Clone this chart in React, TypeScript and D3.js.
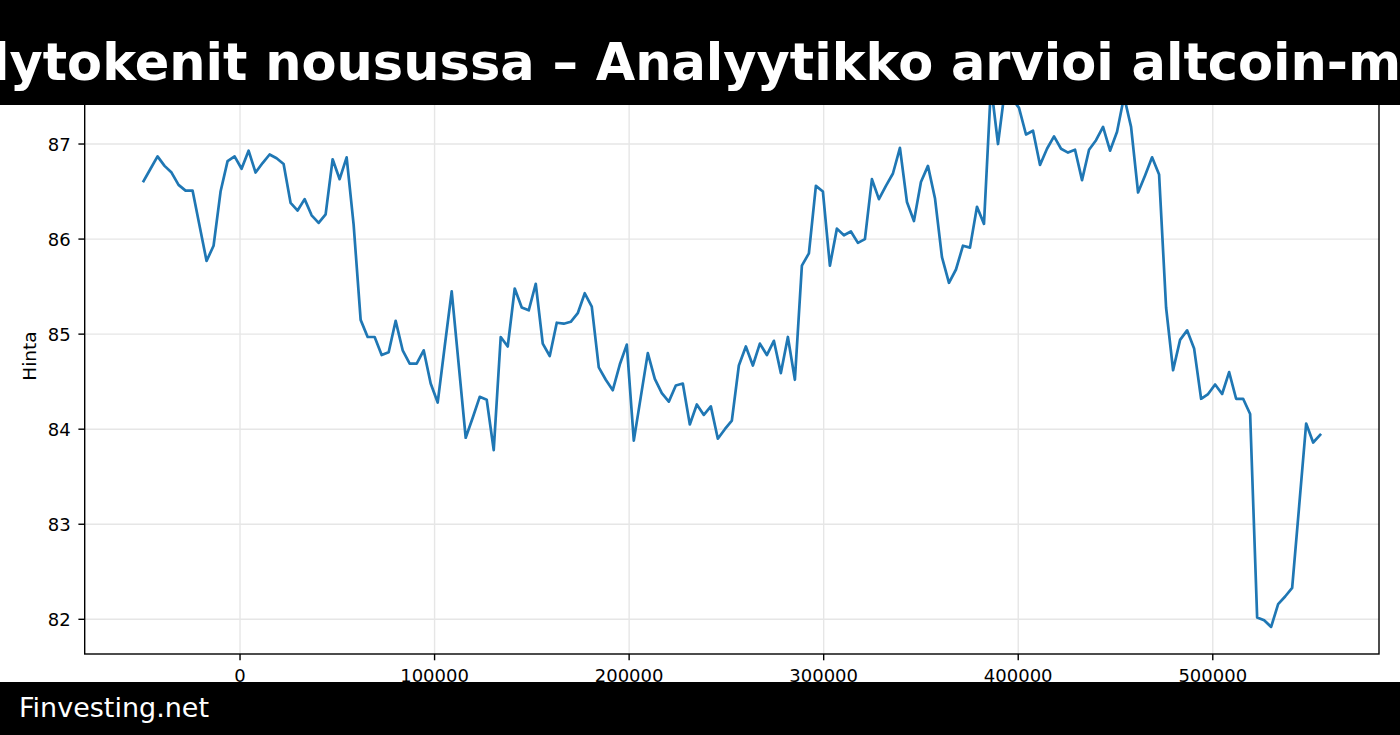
import React, { useEffect, useRef } from 'react';
import * as d3 from 'd3';

// hourly closing prices (x axis is seconds, one point per hour)
const prices: number[] = [
  86.61, 86.74, 86.87, 86.77, 86.70, 86.57, 86.51, 86.51, 86.14, 85.77,
  85.93, 86.50, 86.82, 86.87, 86.74, 86.93, 86.70, 86.80, 86.89, 86.85,
  86.79, 86.38, 86.30, 86.42, 86.25, 86.17, 86.26, 86.84, 86.63, 86.86,
  86.15, 85.15, 84.97, 84.97, 84.78, 84.81, 85.14, 84.83, 84.69, 84.69,
  84.83, 84.48, 84.28, 84.87, 85.45, 84.68, 83.91, 84.12, 84.34, 84.31,
  83.78, 84.97, 84.87, 85.48, 85.28, 85.25, 85.53, 84.90, 84.77, 85.12,
  85.11, 85.13, 85.22, 85.43, 85.29, 84.65, 84.52, 84.41, 84.68, 84.89,
  83.88, 84.34, 84.80, 84.53, 84.38, 84.29, 84.46, 84.48, 84.05, 84.26,
  84.15, 84.24, 83.90, 84.00, 84.09, 84.67, 84.87, 84.67, 84.90, 84.78,
  84.93, 84.59, 84.97, 84.52, 85.72, 85.85, 86.56, 86.50, 85.72, 86.11,
  86.04, 86.08, 85.96, 86.00, 86.63, 86.42, 86.56, 86.69, 86.96, 86.39,
  86.19, 86.60, 86.77, 86.43, 85.81, 85.54, 85.68, 85.93, 85.91, 86.34,
  86.16, 87.62, 87.00, 87.58, 87.48, 87.38, 87.10, 87.14, 86.78, 86.95,
  87.08, 86.95, 86.91, 86.94, 86.62, 86.94, 87.04, 87.18, 86.93, 87.13,
  87.50, 87.18, 86.49, 86.67, 86.86, 86.68, 85.28, 84.62, 84.94, 85.04,
  84.85, 84.32, 84.37, 84.47, 84.37, 84.60, 84.32, 84.32, 84.16, 82.02,
  81.99, 81.92, 82.16, 82.24, 82.33, 83.19, 84.06, 83.86, 83.94,
];
const startTime = -49600;
const stepTime = 3600;

const xTicks = [0, 100000, 200000, 300000, 400000, 500000];
const yTicks = [82, 83, 84, 85, 86, 87];

const titleText = 'lytokenit nousussa – Analyytikko arvioi altcoin-ma';
const footerText = 'Finvesting.net';
const yLabel = 'Hinta';

const W = 1400;
const H = 735;

export default function App() {
  const ref = useRef<SVGSVGElement>(null);

  useEffect(() => {
    const svg = d3.select(ref.current);
    svg.selectAll('*').remove();

    const data = prices.map((p, i) => ({ x: startTime + i * stepTime, y: p }));

    const left = 84.7, right = 1379, top = 58, bottom = 654;

    // matplotlib style 5% margins
    const xExt = d3.extent(data, d => d.x) as [number, number];
    const yExt = d3.extent(data, d => d.y) as [number, number];
    const xPad = (xExt[1] - xExt[0]) * 0.05;
    const yPad = (yExt[1] - yExt[0]) * 0.05;

    const xScale = d3.scaleLinear()
      .domain([xExt[0] - xPad, xExt[1] + xPad])
      .range([left, right]);
    const yScale = d3.scaleLinear()
      .domain([yExt[0] - yPad, yExt[1] + yPad])
      .range([bottom, top]);

    svg.append('rect').attr('width', W).attr('height', H).attr('fill', '#fff');

    const font = 'DejaVu Sans, sans-serif';

    //grid
    const grid = svg.append('g').attr('stroke', '#e6e6e6').attr('stroke-width', 1.4);
    xTicks.forEach(t => {
      grid.append('line')
        .attr('x1', xScale(t)).attr('x2', xScale(t))
        .attr('y1', top).attr('y2', bottom);
    });
    yTicks.forEach(t => {
      grid.append('line')
        .attr('x1', left).attr('x2', right)
        .attr('y1', yScale(t)).attr('y2', yScale(t));
    });

    //price line
    const line = d3.line<{ x: number; y: number }>()
      .x(d => xScale(d.x))
      .y(d => yScale(d.y));
    svg.append('path')
      .datum(data)
      .attr('d', line)
      .attr('fill', 'none')
      .attr('stroke', '#1f77b4')
      .attr('stroke-width', 2.7)
      .attr('stroke-linejoin', 'round')
      .attr('stroke-linecap', 'square');

    //spines
    svg.append('rect')
      .attr('x', left).attr('y', top)
      .attr('width', right - left).attr('height', bottom - top)
      .attr('fill', 'none').attr('stroke', '#000').attr('stroke-width', 1.4);

    //x ticks
    const xt = svg.append('g');
    xTicks.forEach(t => {
      xt.append('line')
        .attr('x1', xScale(t)).attr('x2', xScale(t))
        .attr('y1', bottom).attr('y2', bottom + 6.3)
        .attr('stroke', '#000').attr('stroke-width', 1.4);
      xt.append('text')
        .attr('x', xScale(t)).attr('y', bottom + 28)
        .attr('text-anchor', 'middle')
        .attr('font-family', font).attr('font-size', 18)
        .attr('fill', '#000')
        .text(String(t));
    });

    //y ticks
    const yt = svg.append('g');
    yTicks.forEach(t => {
      yt.append('line')
        .attr('x1', left - 6.3).attr('x2', left)
        .attr('y1', yScale(t)).attr('y2', yScale(t))
        .attr('stroke', '#000').attr('stroke-width', 1.4);
      yt.append('text')
        .attr('x', left - 14).attr('y', yScale(t) + 6.5)
        .attr('text-anchor', 'end')
        .attr('font-family', font).attr('font-size', 18)
        .attr('fill', '#000')
        .text(String(t));
    });

    svg.append('text')
      .attr('transform', `translate(36, ${(top + bottom) / 2}) rotate(-90)`)
      .attr('text-anchor', 'middle')
      .attr('font-family', font).attr('font-size', 18.5)
      .attr('fill', '#000')
      .text(yLabel);

    //title banner
    svg.append('rect').attr('x', 0).attr('y', 0).attr('width', W).attr('height', 105).attr('fill', '#000');
    svg.append('text')
      .attr('x', -8).attr('y', 80)
      .attr('font-family', font).attr('font-weight', 'bold').attr('font-size', 51)
      .attr('fill', '#fff')
      .text(titleText);

    //footer banner
    svg.append('rect').attr('x', 0).attr('y', 682).attr('width', W).attr('height', H - 682).attr('fill', '#000');
    svg.append('text')
      .attr('x', 19).attr('y', 717)
      .attr('font-family', font).attr('font-size', 27)
      .attr('fill', '#fff')
      .text(footerText);
  }, []);

  return (
    <div style={{ position: 'fixed', left: 0, top: 0 }}>
      <svg ref={ref} width={W} height={H} style={{ display: 'block' }}></svg>
    </div>
  );
}
